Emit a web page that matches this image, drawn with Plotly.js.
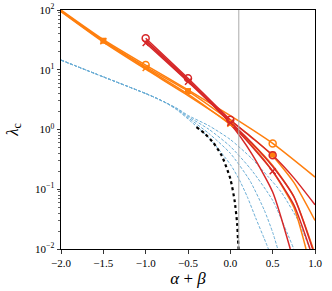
<!DOCTYPE html>
<html><head><meta charset="utf-8">
<script src="https://cdn.plot.ly/plotly-3.0.1.min.js"></script>
<style>html,body{margin:0;padding:0;background:#fff}#c{width:332px;height:291px}</style>
</head><body><div id="c"></div>
<script>
// Orange curves
const o1x=[-2,-1.5,-1,-0.5,0,0.5,1], o1y=[100,32,12,4.6,1.7,0.585,0.16];
const o2x=[-2,-1.5,-1,-0.5,0,0.25,0.5,0.75,1], o2y=[97,30.6,11.2,4.4,1.4,0.75,0.36,0.13,0.03];
const o3x=[-2,-1.5,-1,-0.5,0,0.25,0.5,0.75,0.894], o3y=[95,30,10.7,3.9,1.2,0.55,0.2,0.05,0.01];
const o4x=[-2,-1.5,-1,-0.5,0,0.25,0.5,0.75,0.98], o4y=[94,29,10.2,3.7,1.25,0.6,0.25,0.075,0.01];
// Red curves
const r1x=[-1,-0.5,0,0.25,0.5,0.75,1], r1y=[33.6,7.2,1.45,0.74,0.37,0.155,0.055];
const r2x=[-1,-0.5,0,0.25,0.5,0.75,0.941], r2y=[28,6.3,1.3,0.53,0.2,0.055,0.01];
const r3x=[-1,-0.5,0,0.25,0.5,0.708], r3y=[31,6.8,1.25,0.4,0.09,0.01];
const r4x=[-1,-0.5,0,0.25,0.5,0.75,0.972], r4y=[30,6.5,1.35,0.6,0.24,0.075,0.01];
// Blue dashed curves
const b1x=[-2,-1.5,-1,-0.875,-0.75,-0.625,-0.5,-0.25,0,0.1,0.2,0.3,0.4,0.45], b1y=[14.5,7.6,4.0,3.35,2.75,2.1,1.5,0.72,0.26,0.15,0.075,0.033,0.015,0.01];
const b2x=[-2,-1.5,-1,-0.875,-0.75,-0.625,-0.5,-0.25,0,0.23,0.4,0.5,0.56], b2y=[14.5,7.6,4.0,3.35,2.75,2.15,1.58,0.85,0.4,0.14,0.045,0.019,0.01];
const b3x=[-2,-1.5,-1,-0.875,-0.75,-0.625,-0.5,-0.25,0,0.25,0.5,0.75], b3y=[14.5,7.6,4.0,3.35,2.75,2.2,1.65,1.0,0.52,0.21,0.065,0.01];
const b4x=[-2,-1.5,-1,-0.875,-0.75,-0.625,-0.5,-0.25,0,0.25,0.45,0.6,0.8,0.94], b4y=[14.5,7.6,4.0,3.35,2.75,2.25,1.72,1.15,0.68,0.33,0.16,0.09,0.03,0.01];
// Black dotted curve
const kx=[-0.4,-0.3,-0.2,-0.1,0,0.05,0.08,0.09,0.1], ky=[1.1,0.85,0.6,0.36,0.15,0.065,0.027,0.015,0.009];
// Markers
const osqx=[-1.5,-0.5,0,0.5], osqy=[30.6,4.4,1.3,0.38];
const ocx=[-1,0.5], ocy=[12,0.585];
const oxx=[-1.5,-1,0], oxy=[30,10.7,1.25];
const rcx=[-1,-0.5,0,0.5], rcy=[33.6,7.2,1.45,0.37];
const rxx=[-1,-0.5,0,0.5], rxy=[28,6.3,1.3,0.2];
const vline=[0.1];
const minorVals=[0.02,0.03,0.04,0.05,0.06,0.07,0.08,0.09,0.2,0.3,0.4,0.5,0.6,0.7,0.8,0.9,2,3,4,5,6,7,8,9,20,30,40,50,60,70,80,90];

const OR='#ff7f0e', RD='#d62728', BL='#6baed6';
const SM=0.6;
const L=(x,y,c)=>({x,y,mode:'lines',type:'scatter',line:{color:c,width:1.5,shape:'spline',smoothing:SM},hoverinfo:'skip'});
const B=(x,y)=>({x,y,mode:'lines',type:'scatter',line:{color:BL,width:1,dash:'3px,1.6px',shape:'spline',smoothing:SM},hoverinfo:'skip'});
const traces=[
  B(b1x,b1y),B(b2x,b2y),B(b3x,b3y),B(b4x,b4y),
  {x:kx,y:ky,mode:'lines',type:'scatter',line:{color:'#000',width:2.2,dash:'dot',shape:'spline',smoothing:SM},hoverinfo:'skip'},
  L(o1x,o1y,OR),L(o2x,o2y,OR),L(o3x,o3y,OR),L(o4x,o4y,OR),
  L(r1x,r1y,RD),L(r2x,r2y,RD),L(r3x,r3y,RD),L(r4x,r4y,RD),
  {x:[vline[0],vline[0]],y:[0.01,100],mode:'lines',type:'scatter',line:{color:'#aaaaaa',width:1},hoverinfo:'skip'},
  {x:osqx,y:osqy,mode:'markers',type:'scatter',marker:{symbol:'square',size:6,color:OR}},
  {x:ocx,y:ocy,mode:'markers',type:'scatter',marker:{symbol:'circle-open',size:7,color:OR,line:{width:1.5,color:OR}}},
  {x:oxx,y:oxy,mode:'markers',type:'scatter',marker:{symbol:'x-thin',size:6,color:OR,line:{width:1.5,color:OR}}},
  {x:rcx,y:rcy,mode:'markers',type:'scatter',marker:{symbol:'circle-open',size:7,color:RD,line:{width:1.5,color:RD}}},
  {x:rxx,y:rxy,mode:'markers',type:'scatter',marker:{symbol:'x-thin',size:6,color:RD,line:{width:1.5,color:RD}}}
];
const FONT='Liberation Serif, DejaVu Serif, serif';
const layout={
  width:332,height:291,margin:{l:61,r:17,t:10,b:42},
  paper_bgcolor:'#fff',plot_bgcolor:'#fff',showlegend:false,
  font:{family:FONT,size:11,color:'#000'},
  xaxis:{range:[-2,1],tickvals:[-2,-1.5,-1,-0.5,0,0.5,1],ticktext:['\u22122.0','\u22121.5','\u22121.0','\u22120.5','0.0','0.5','1.0'],
    ticks:'outside',ticklen:3.5,tickwidth:0.8,tickcolor:'#000',showgrid:false,zeroline:false,showline:true,linecolor:'#000',linewidth:1,mirror:true,
    tickfont:{family:FONT,size:11},title:{text:'<i>α</i> + <i>β</i>',font:{family:FONT,size:17},standoff:4}},
  yaxis:{type:'log',range:[-2,2],tickvals:[0.01,0.1,1,10,100],ticktext:['10<sup>−2</sup>','10<sup>−1</sup>','10<sup>0</sup>','10<sup>1</sup>','10<sup>2</sup>'],
    ticks:'outside',ticklen:3.5,tickwidth:0.8,tickcolor:'#000',showgrid:false,zeroline:false,showline:true,linecolor:'#000',linewidth:1,mirror:true,
    minor:{tickmode:'array',tickvals:minorVals,ticks:'outside',ticklen:2,tickwidth:0.6,tickcolor:'#000',showgrid:false},
    tickfont:{family:FONT,size:11},title:{text:'<i>λ</i><sub>c</sub>',font:{family:FONT,size:17},standoff:12}}
};
Plotly.newPlot('c',traces,layout,{staticPlot:true,displayModeBar:false});
</script></body></html>
